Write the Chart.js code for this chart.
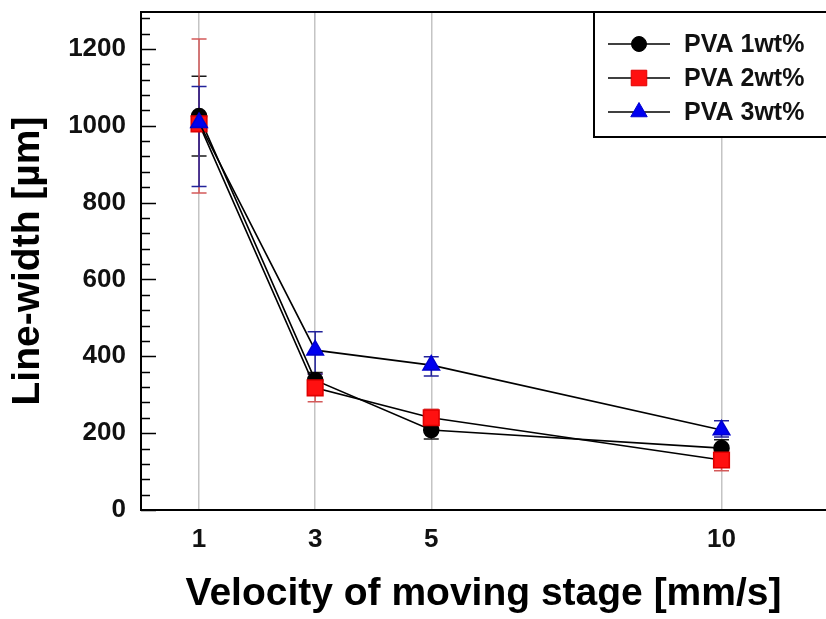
<!DOCTYPE html>
<html><head><meta charset="utf-8">
<script src="https://cdn.jsdelivr.net/npm/chart.js@4.4.0/dist/chart.umd.min.js"></script>
<style>html,body{margin:0;padding:0;background:#fff;overflow:hidden}canvas{display:block}</style>
</head><body>
<canvas id="c" width="826" height="619"></canvas>
<script>
// ---- data ----
const xValues = [1, 3, 5, 10];
const xTickValues = [1, 3, 5, 10];
const seriesLabels = ['PVA 1wt%', 'PVA 2wt%', 'PVA 3wt%'];
const pva1 = [1025, 338, 208, 161];
const pva1ErrUp = [104, 20, 22, 22];
const pva1ErrDown = [104, 20, 23, 22];
const pva2 = [1005, 318, 240, 130];
const pva2ErrUp = [221, 36, 22, 28];
const pva2ErrDown = [180, 36, 22, 28];
const pva3 = [1008, 416, 377, 208];
const pva3ErrUp = [94, 48, 22, 24];
const pva3ErrDown = [166, 62, 28, 18];
const yMax = 1296, yMajorStep = 200, yMinorStep = 40, yLabelMax = 1200;
const xMin = 0, xMax = 11.8;
const xTitle = 'Velocity of moving stage [mm/s]';
const yTitle = 'Line-width [\u00B5m]';

const FONT = "'Liberation Sans', Arial, Helvetica, sans-serif";
const pts = arr => arr.map((v, i) => ({x: xValues[i], y: v}));

const errorBars = {
  id: 'errorBars',
  beforeDatasetsDraw(chart) {
    const {ctx, scales: {x, y}} = chart;
    chart.data.datasets.forEach((ds, di) => {
      if (!chart.isDatasetVisible(di)) return;
      ctx.save();
      ctx.strokeStyle = ds.errColor;
      ctx.lineWidth = 1.5;
      ds.data.forEach((p, i) => {
        const px = x.getPixelForValue(p.x);
        const yt = y.getPixelForValue(p.y + ds.errUp[i]);
        const yb = y.getPixelForValue(p.y - ds.errDown[i]);
        const cw = 7.5;
        ctx.beginPath();
        ctx.moveTo(px, yt); ctx.lineTo(px, yb);
        ctx.moveTo(px - cw, yt); ctx.lineTo(px + cw, yt);
        ctx.moveTo(px - cw, yb); ctx.lineTo(px + cw, yb);
        ctx.stroke();
      });
      ctx.restore();
    });
  }
};

const frame = {
  id: 'frame',
  afterDraw(chart) {
    const {ctx, chartArea: a, scales: {y}} = chart;
    ctx.save();
    ctx.strokeStyle = '#000';
    ctx.lineWidth = 2;
    ctx.beginPath();
    ctx.moveTo(a.left, a.top); ctx.lineTo(chart.width + 10, a.top);
    ctx.stroke();
    // inward y ticks (major + minor)
    ctx.lineWidth = 1.5;
    ctx.beginPath();
    for (let v = 0; v <= yMax; v += yMinorStep) {
      const py = Math.round(y.getPixelForValue(v)) + 0.5;
      const len = (v % yMajorStep === 0) ? 15 : 9;
      ctx.moveTo(a.left, py); ctx.lineTo(a.left + len, py);
    }
    ctx.stroke();
    // legend box
    const bx = 594, by = a.top, bh = 125;
    ctx.fillStyle = '#fff';
    ctx.fillRect(bx, by, chart.width - bx + 10, bh);
    ctx.lineWidth = 2;
    ctx.strokeRect(bx, by, chart.width - bx + 10, bh);
    chart.data.datasets.forEach((ds, i) => {
      const ry = by + 32 + i * 34;
      ctx.strokeStyle = '#000';
      ctx.lineWidth = 1.6;
      ctx.beginPath(); ctx.moveTo(608, ry); ctx.lineTo(670, ry); ctx.stroke();
      ctx.fillStyle = ds.pointBackgroundColor;
      ctx.strokeStyle = ds.pointBorderColor;
      ctx.lineWidth = 1;
      Chart.helpers.drawPoint(ctx, {pointStyle: ds.pointStyle, radius: ds.pointRadius, borderWidth: 1, rotation: 0}, 639, ry);
      ctx.fillStyle = '#111';
      ctx.font = 'bold 25px ' + FONT;
      ctx.textAlign = 'left';
      ctx.textBaseline = 'middle';
      ctx.fillText(ds.label, 684, ry + 1);
    });
    ctx.restore();
  }
};

new Chart(document.getElementById('c'), {
  type: 'line',
  data: {
    datasets: [
      {label: seriesLabels[0], data: pts(pva1), errUp: pva1ErrUp, errDown: pva1ErrDown, errColor: '#1a1a1a',
       borderColor: '#000', borderWidth: 1.6, pointStyle: 'circle', pointRadius: 7.5,
       pointBackgroundColor: '#000', pointBorderColor: '#000', order: 3},
      {label: seriesLabels[1], data: pts(pva2), errUp: pva2ErrUp, errDown: pva2ErrDown, errColor: '#d45a5a',
       borderColor: '#000', borderWidth: 1.6, pointStyle: 'rect', pointRadius: 11,
       pointBackgroundColor: '#ff1010', pointBorderColor: '#e00000', order: 2},
      {label: seriesLabels[2], data: pts(pva3), errUp: pva3ErrUp, errDown: pva3ErrDown, errColor: '#22229a',
       borderColor: '#000', borderWidth: 1.6, pointStyle: 'triangle', pointRadius: 9.5,
       pointBackgroundColor: '#0000f0', pointBorderColor: '#0000d0', order: 1}
    ]
  },
  options: {
    responsive: false,
    animation: false,
    devicePixelRatio: 1,
    layout: {autoPadding: false, padding: {left: 0, right: 0, top: 12, bottom: 0}},
    plugins: {legend: {display: false}, tooltip: {enabled: false}},
    elements: {line: {tension: 0}, point: {borderWidth: 1, hoverRadius: 0}},
    scales: {
      x: {
        type: 'linear', min: xMin, max: xMax,
        afterBuildTicks: s => { s.ticks = xTickValues.map(v => ({value: v})); },
        afterFit: s => { s.height = 109; s.paddingLeft = 0; s.paddingRight = 0; },
        ticks: {font: {family: FONT, size: 26, weight: 'bold'}, color: '#111', padding: 14,
                callback: v => String(v), maxRotation: 0, autoSkip: false},
        grid: {display: true, color: '#c4c4c4', lineWidth: 1.5, drawTicks: false},
        border: {display: true, color: '#000', width: 2},
        title: {display: true, text: xTitle, color: '#000',
                font: {family: FONT, size: 39, weight: 'bold'}, padding: {top: 0, bottom: 1}}
      },
      y: {
        type: 'linear', min: 0, max: yMax,
        afterBuildTicks: s => { const t = []; for (let v = 0; v <= yLabelMax; v += yMajorStep) t.push({value: v}); s.ticks = t; },
        afterFit: s => { s.width = 141; s.paddingTop = 0; s.paddingBottom = 0; },
        ticks: {font: {family: FONT, size: 26, weight: 'bold', lineHeight: 0.9}, color: '#111', padding: 15,
                callback: v => String(v)},
        grid: {display: true, drawOnChartArea: false, drawTicks: false},
        border: {display: true, color: '#000', width: 2},
        title: {display: true, text: yTitle, color: '#000',
                font: {family: FONT, size: 39, weight: 'bold'}, padding: {top: 5, bottom: 0}}
      }
    }
  },
  plugins: [errorBars, frame]
});
</script>
</body></html>
